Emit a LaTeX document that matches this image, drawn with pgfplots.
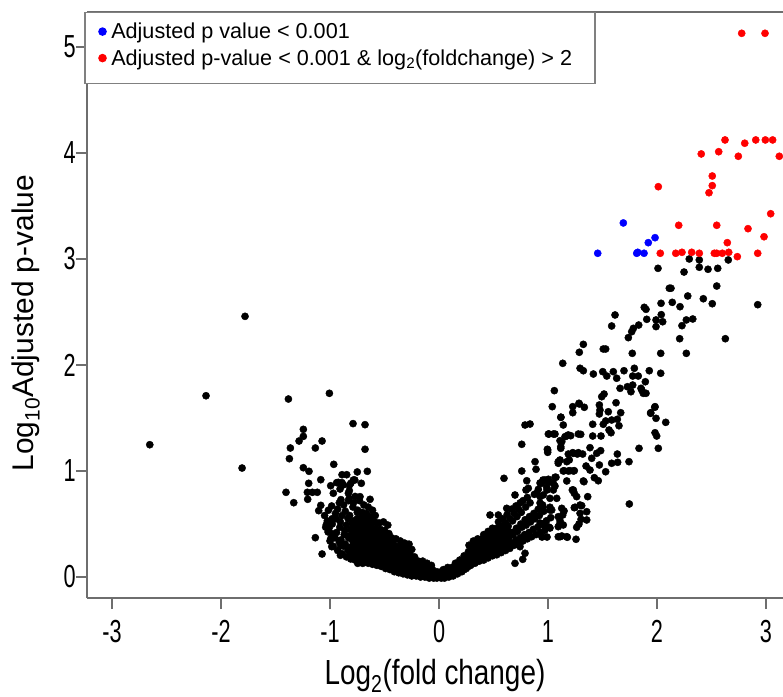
\documentclass[border=0pt]{standalone}
\usepackage{pgfplots}
\pgfplotsset{compat=1.18}
\usepackage{fontspec}
\setmainfont{Liberation Sans}
\newfontfamily\tickfont[FakeStretch=0.68]{Liberation Sans}
\newfontfamily\xlabfont[FakeStretch=0.8]{Liberation Sans}
\definecolor{axgray}{RGB}{110,110,110}
\definecolor{lggray}{RGB}{128,128,128}
\definecolor{ptblue}{RGB}{0,0,255}
\definecolor{ptred}{RGB}{255,0,0}
\begin{document}
\begin{tikzpicture}
\begin{axis}[
  scale only axis, width=696bp, height=586bp,
  xmin=-3.23, xmax=3.156, ymin=-0.198, ymax=5.33,
  axis x line=box, axis y line=left,
  axis line style={-, axgray, line width=1.3bp},
  x axis line style={-}, y axis line style={-},
  xtick={-3,-2,-1,0,1,2,3}, xticklabels={-3,-2,-1,0,1,2,3},
  ytick={0,1,2,3,4,5}, yticklabels={0,1,2,3,4,5},
  xtick pos=bottom, ytick pos=left,
  tick align=outside, major tick length=11bp,
  tick style={axgray, line width=1.3bp},
  tick label style={font=\tickfont\fontsize{32}{36}\selectfont, inner sep=0pt},
  xticklabel style={anchor=north, yshift=-11bp},
  yticklabel style={anchor=east},
  xlabel={Log\textsubscript{2}(fold change)},
  xlabel style={font=\xlabfont\fontsize{35}{40}\selectfont, at={(axis description cs:0.5,-0.147)}, anchor=base, inner sep=0pt},
  ylabel={Log\textsubscript{10}Adjusted p-value},
  ylabel style={font=\fontsize{30}{34}\selectfont, at={(axis description cs:-0.0675,0.469)}, anchor=south, inner sep=0pt},
  legend style={at={(axis description cs:-0.0043,1)}, anchor=north west, draw=lggray, line width=1.5bp, fill=white,
    inner xsep=13.5bp, inner ysep=10.5bp, row sep=3bp, column sep=4.5bp,
    font=\fontsize{21.7}{25}\selectfont, nodes={inner sep=0pt, text height=15.5bp, text depth=8bp}},
  legend cell align=left,
  legend image code/.code={\fill (0bp,3.4bp) circle (3.5bp);},
  clip=true,
]
\addplot[only marks, mark=*, mark size=3.6bp, black, forget plot] table[row sep=\\] {
x y\\
-1.780 2.459\\ -2.138 1.710\\ -2.654 1.248\\ -1.807 1.028\\ -1.382 1.679\\ -1.006 1.733\\
-0.789 1.447\\ -0.679 1.437\\ -0.679 1.205\\ -1.245 1.393\\ -1.245 1.327\\ -1.284 1.283\\
-1.364 1.217\\ -1.373 1.116\\ -1.135 1.217\\ -1.073 1.283\\ -0.966 1.063\\ -1.245 1.031\\
-1.193 0.997\\ -1.404 0.799\\ -1.333 0.701\\ -1.196 0.884\\ -1.208 0.799\\ -1.162 0.799\\
-1.117 0.799\\ -1.205 0.733\\ -1.085 0.918\\ -1.135 0.371\\ -1.073 0.217\\ -0.905 0.205\\
-1.104 0.626\\ -1.034 0.494\\ -1.018 0.425\\ -0.984 0.286\\ -0.994 0.361\\ -0.890 0.965\\
-0.847 0.965\\ -0.750 0.991\\ -0.658 0.997\\ -0.994 0.861\\ -0.939 0.890\\ -0.890 0.890\\
-0.823 0.865\\ -0.773 0.915\\ -0.713 0.884\\ -0.970 0.790\\ -0.823 0.814\\ -0.633 0.733\\
-0.924 0.893\\ -0.881 0.868\\ -0.810 0.884\\ -0.786 0.915\\ -0.908 0.830\\ -0.832 0.790\\
-0.725 0.758\\ -1.085 0.676\\ -0.902 0.295\\ -0.817 0.192\\ -0.746 0.129\\ -0.700 0.129\\
-1.04 0.47\\ -1.025 0.53\\ -1.05 0.58\\
-1.00 0.34\\ -0.985 0.41\\ -1.01 0.46\\ -0.98 0.55\\ -1.015 0.63\\
-0.97 0.29\\ -0.955 0.37\\ -0.98 0.50\\ -0.95 0.60\\ -0.985 0.67\\
-0.93 0.25\\ -0.915 0.33\\ -0.94 0.42\\ -0.91 0.47\\ -0.945 0.55\\ -0.93 0.64\\ -0.915 0.70\\
-0.89 0.22\\ -0.875 0.29\\ -0.90 0.35\\ -0.87 0.40\\ -0.905 0.52\\ -0.89 0.58\\ -0.875 0.68\\ -0.90 0.73\\
-0.85 0.19\\ -0.835 0.25\\ -0.86 0.31\\ -0.83 0.37\\ -0.865 0.44\\ -0.85 0.49\\ -0.835 0.55\\ -0.86 0.62\\ -0.83 0.72\\
-0.81 0.17\\ -0.795 0.23\\ -0.82 0.28\\ -0.79 0.34\\ -0.825 0.39\\ -0.81 0.45\\ -0.795 0.51\\ -0.82 0.58\\ -0.79 0.66\\ -0.825 0.74\\
-0.77 0.16\\ -0.755 0.21\\ -0.78 0.26\\ -0.75 0.31\\ -0.785 0.36\\ -0.77 0.42\\ -0.755 0.47\\ -0.78 0.53\\ -0.75 0.61\\ -0.785 0.70\\ -0.77 0.76\\
-0.73 0.15\\ -0.715 0.20\\ -0.74 0.25\\ -0.71 0.30\\ -0.745 0.35\\ -0.73 0.40\\ -0.715 0.45\\ -0.74 0.50\\ -0.71 0.56\\ -0.745 0.63\\ -0.73 0.72\\
-0.69 0.14\\ -0.675 0.19\\ -0.70 0.24\\ -0.67 0.29\\ -0.705 0.34\\ -0.69 0.39\\ -0.675 0.44\\ -0.70 0.49\\ -0.67 0.55\\ -0.705 0.61\\ -0.69 0.68\\
-0.65 0.13\\ -0.635 0.18\\ -0.66 0.23\\ -0.63 0.28\\ -0.665 0.33\\ -0.65 0.38\\ -0.635 0.43\\ -0.66 0.48\\ -0.63 0.53\\ -0.665 0.60\\ -0.65 0.66\\
-0.61 0.12\\ -0.595 0.17\\ -0.62 0.22\\ -0.59 0.27\\ -0.625 0.32\\ -0.61 0.37\\ -0.595 0.42\\ -0.62 0.47\\ -0.59 0.52\\ -0.625 0.57\\ -0.61 0.63\\
-0.57 0.11\\ -0.555 0.16\\ -0.58 0.21\\ -0.55 0.26\\ -0.585 0.31\\ -0.57 0.36\\ -0.555 0.41\\ -0.58 0.46\\ -0.55 0.51\\ -0.585 0.58\\
-0.53 0.10\\ -0.515 0.15\\ -0.54 0.20\\ -0.51 0.25\\ -0.545 0.30\\ -0.53 0.35\\ -0.515 0.40\\ -0.54 0.45\\ -0.51 0.52\\
-0.49 0.08\\ -0.475 0.13\\ -0.50 0.18\\ -0.47 0.23\\ -0.505 0.28\\ -0.49 0.33\\ -0.475 0.38\\ -0.50 0.44\\ -0.47 0.49\\
-0.45 0.07\\ -0.435 0.12\\ -0.46 0.17\\ -0.43 0.22\\ -0.465 0.27\\ -0.45 0.32\\ -0.435 0.37\\ -0.46 0.41\\
-0.41 0.05\\ -0.395 0.10\\ -0.42 0.15\\ -0.39 0.20\\ -0.425 0.25\\ -0.41 0.30\\ -0.395 0.36\\
-0.37 0.04\\ -0.355 0.09\\ -0.38 0.14\\ -0.35 0.19\\ -0.385 0.24\\ -0.37 0.29\\ -0.355 0.34\\
-0.33 0.03\\ -0.315 0.08\\ -0.34 0.13\\ -0.31 0.18\\ -0.345 0.23\\ -0.33 0.28\\ -0.315 0.32\\
-0.29 0.02\\ -0.275 0.07\\ -0.30 0.12\\ -0.27 0.17\\ -0.305 0.22\\ -0.29 0.27\\ -0.275 0.31\\
-0.25 0.01\\ -0.235 0.06\\ -0.26 0.11\\ -0.23 0.16\\ -0.265 0.21\\ -0.25 0.26\\
-0.21 0.01\\ -0.195 0.05\\ -0.22 0.10\\ -0.19 0.15\\ -0.225 0.19\\
-0.17 0.00\\ -0.155 0.05\\ -0.18 0.10\\ -0.15 0.15\\
-0.13 0.00\\ -0.115 0.04\\ -0.14 0.08\\ -0.11 0.13\\
-0.09 -0.01\\ -0.075 0.03\\ -0.10 0.07\\ -0.07 0.11\\
-0.05 -0.01\\ -0.035 0.03\\ -0.06 0.07\\
-0.02 -0.01\\ -0.02 0.02\\ -0.02 0.05\\
0.02 -0.01\\ 0.02 0.02\\ 0.02 0.05\\
-0.79 0.19\\ -0.79 0.24\\ -0.79 0.29\\ -0.79 0.34\\ -0.79 0.40\\ -0.79 0.45\\ -0.79 0.50\\
-0.75 0.18\\ -0.75 0.23\\ -0.75 0.28\\ -0.75 0.33\\ -0.75 0.38\\ -0.75 0.44\\ -0.75 0.49\\ -0.75 0.55\\
-0.71 0.17\\ -0.71 0.22\\ -0.71 0.27\\ -0.71 0.32\\ -0.71 0.37\\ -0.71 0.42\\ -0.71 0.47\\ -0.71 0.52\\
-0.67 0.16\\ -0.67 0.21\\ -0.67 0.26\\ -0.67 0.31\\ -0.67 0.36\\ -0.67 0.41\\ -0.67 0.46\\ -0.67 0.51\\
-0.63 0.15\\ -0.63 0.20\\ -0.63 0.25\\ -0.63 0.30\\ -0.63 0.35\\ -0.63 0.40\\ -0.63 0.45\\ -0.63 0.50\\
-0.59 0.14\\ -0.59 0.19\\ -0.59 0.24\\ -0.59 0.29\\ -0.59 0.34\\ -0.59 0.39\\ -0.59 0.44\\
-0.55 0.13\\ -0.55 0.18\\ -0.55 0.23\\ -0.55 0.28\\ -0.55 0.33\\ -0.55 0.38\\ -0.55 0.43\\
-0.51 0.11\\ -0.51 0.16\\ -0.51 0.21\\ -0.51 0.26\\ -0.51 0.31\\ -0.51 0.36\\ -0.51 0.41\\
-0.47 0.10\\ -0.47 0.15\\ -0.47 0.20\\ -0.47 0.25\\ -0.47 0.30\\ -0.47 0.35\\
-0.43 0.08\\ -0.43 0.13\\ -0.43 0.18\\ -0.43 0.23\\ -0.43 0.28\\ -0.43 0.33\\
-0.39 0.07\\ -0.39 0.12\\ -0.39 0.17\\ -0.39 0.22\\ -0.39 0.27\\
-0.35 0.06\\ -0.35 0.11\\ -0.35 0.16\\ -0.35 0.21\\ -0.35 0.26\\
-0.31 0.05\\ -0.31 0.10\\ -0.31 0.15\\ -0.31 0.20\\ -0.31 0.25\\
-0.27 0.04\\ -0.27 0.09\\ -0.27 0.14\\ -0.27 0.19\\
-0.23 0.03\\ -0.23 0.08\\ -0.23 0.13\\ -0.23 0.17\\
-0.19 0.03\\ -0.19 0.07\\ -0.19 0.12\\
-0.15 0.02\\ -0.15 0.07\\ -0.15 0.12\\
-0.11 0.02\\ -0.11 0.06\\ -0.11 0.10\\
-0.07 0.01\\ -0.07 0.05\\
0.05 -0.01\\ 0.065 0.03\\ 0.04 0.07\\
0.09 0.00\\ 0.105 0.04\\ 0.08 0.09\\
0.13 0.01\\ 0.145 0.05\\ 0.12 0.09\\ 0.15 0.13\\
0.17 0.03\\ 0.185 0.07\\ 0.16 0.11\\ 0.19 0.16\\
0.21 0.05\\ 0.225 0.10\\ 0.20 0.15\\ 0.23 0.20\\
0.25 0.08\\ 0.265 0.13\\ 0.24 0.18\\ 0.27 0.24\\
0.29 0.11\\ 0.305 0.16\\ 0.28 0.21\\ 0.31 0.26\\ 0.275 0.30\\
0.33 0.13\\ 0.345 0.18\\ 0.32 0.23\\ 0.35 0.28\\ 0.315 0.34\\
0.37 0.15\\ 0.385 0.20\\ 0.36 0.25\\ 0.39 0.30\\ 0.355 0.36\\
0.41 0.16\\ 0.425 0.21\\ 0.40 0.26\\ 0.43 0.31\\ 0.395 0.36\\ 0.41 0.40\\
0.45 0.18\\ 0.465 0.23\\ 0.44 0.28\\ 0.47 0.33\\ 0.435 0.38\\ 0.45 0.43\\
0.49 0.20\\ 0.505 0.25\\ 0.48 0.30\\ 0.51 0.35\\ 0.475 0.40\\ 0.49 0.46\\
0.53 0.21\\ 0.545 0.26\\ 0.52 0.31\\ 0.55 0.36\\ 0.515 0.41\\ 0.53 0.46\\ 0.545 0.52\\
0.57 0.23\\ 0.585 0.28\\ 0.56 0.33\\ 0.59 0.38\\ 0.555 0.43\\ 0.57 0.48\\ 0.585 0.55\\
0.61 0.25\\ 0.625 0.30\\ 0.60 0.35\\ 0.63 0.40\\ 0.595 0.45\\ 0.61 0.51\\ 0.625 0.59\\
0.65 0.27\\ 0.665 0.32\\ 0.64 0.37\\ 0.67 0.42\\ 0.635 0.48\\ 0.65 0.55\\ 0.665 0.64\\
0.69 0.30\\ 0.705 0.35\\ 0.68 0.40\\ 0.71 0.46\\ 0.675 0.53\\ 0.69 0.60\\ 0.705 0.67\\
0.73 0.32\\ 0.745 0.37\\ 0.72 0.43\\ 0.75 0.50\\ 0.715 0.57\\ 0.73 0.64\\ 0.745 0.70\\
0.77 0.34\\ 0.785 0.40\\ 0.76 0.47\\ 0.79 0.54\\ 0.755 0.61\\ 0.77 0.72\\
0.81 0.36\\ 0.825 0.42\\ 0.80 0.49\\ 0.83 0.57\\ 0.795 0.66\\ 0.81 0.75\\
0.85 0.38\\ 0.865 0.45\\ 0.84 0.52\\ 0.87 0.60\\ 0.835 0.70\\
0.89 0.40\\ 0.905 0.47\\ 0.88 0.55\\ 0.91 0.64\\ 0.875 0.78\\
0.93 0.42\\ 0.945 0.50\\ 0.92 0.58\\ 0.95 0.68\\
0.97 0.44\\ 0.985 0.53\\ 0.96 0.62\\
1.01 0.47\\ 1.025 0.56\\
0.07 0.01\\ 0.07 0.05\\ 0.11 0.02\\ 0.11 0.06\\
0.15 0.04\\ 0.15 0.08\\ 0.15 0.11\\ 0.19 0.05\\ 0.19 0.09\\ 0.19 0.13\\
0.23 0.07\\ 0.23 0.12\\ 0.23 0.17\\ 0.27 0.10\\ 0.27 0.15\\ 0.27 0.20\\
0.31 0.13\\ 0.31 0.18\\ 0.31 0.23\\ 0.31 0.28\\ 0.35 0.15\\ 0.35 0.20\\ 0.35 0.25\\ 0.35 0.31\\
0.39 0.17\\ 0.39 0.22\\ 0.39 0.27\\ 0.39 0.33\\ 0.43 0.19\\ 0.43 0.24\\ 0.43 0.29\\ 0.43 0.35\\
0.47 0.21\\ 0.47 0.26\\ 0.47 0.31\\ 0.47 0.37\\ 0.51 0.22\\ 0.51 0.28\\ 0.51 0.33\\ 0.51 0.38\\
0.55 0.24\\ 0.55 0.29\\ 0.55 0.34\\ 0.55 0.40\\ 0.59 0.26\\ 0.59 0.31\\ 0.59 0.36\\ 0.59 0.42\\
0.63 0.28\\ 0.63 0.33\\ 0.63 0.38\\ 0.63 0.44\\
0.927 0.887\\ 0.954 0.915\\ 0.991 0.821\\ 0.927 0.698\\ 0.954 0.660\\ 1.018 0.632\\
0.927 0.509\\ 0.972 0.472\\ 1.018 0.462\\ 0.945 0.377\\ 0.991 0.377\\
1.039 1.607\\ 1.227 1.607\\ 1.227 1.550\\ 1.287 1.632\\ 1.333 1.601\\ 1.117 1.507\\
1.140 1.434\\ 0.789 1.434\\ 0.835 1.443\\ 1.009 1.349\\ 1.064 1.349\\ 1.186 1.340\\
1.156 1.324\\ 1.278 1.349\\ 1.110 1.286\\ 0.759 1.252\\ 0.997 1.198\\ 0.997 1.176\\
1.117 1.214\\ 1.186 1.160\\ 1.232 1.167\\ 1.278 1.173\\ 1.094 1.088\\ 1.110 1.104\\
1.172 1.088\\ 0.881 1.088\\ 0.759 1.000\\ 0.890 1.016\\ 1.140 1.000\\ 1.186 1.000\\
1.232 1.000\\ 0.596 0.931\\ 0.805 0.908\\ 0.972 0.915\\ 1.003 0.922\\ 1.064 0.941\\
1.172 0.906\\ 1.324 0.906\\ 0.942 0.884\\ 0.988 0.846\\ 0.798 0.821\\ 0.819 0.837\\
0.911 0.827\\ 1.064 0.858\\ 1.049 0.821\\ 0.697 0.774\\ 0.896 0.790\\ 0.927 0.758\\
0.957 0.774\\ 1.018 0.742\\ 1.080 0.742\\ 1.232 0.821\\ 1.263 0.758\\ 1.018 0.658\\
1.034 0.632\\ 1.126 0.648\\ 1.248 0.658\\ 1.294 0.679\\ 0.468 0.585\\ 0.544 0.585\\
0.621 0.648\\ 1.094 0.569\\ 1.110 0.531\\ 1.294 0.601\\ 1.355 0.616\\ 1.094 0.475\\
1.263 0.469\\ 1.355 0.538\\ 1.094 0.380\\ 1.126 0.387\\ 1.172 0.380\\ 1.257 0.356\\
0.743 0.286\\ 0.789 0.224\\ 0.697 0.129\\ 0.768 0.167\\ 1.177 0.375\\
2.009 2.912\\ 2.113 2.724\\ 1.883 2.544\\ 1.899 2.525\\ 2.037 2.582\\ 1.615 2.472\\
1.991 2.425\\ 2.052 2.408\\ 1.906 2.431\\ 1.584 2.368\\ 1.832 2.377\\ 1.783 2.346\\
1.768 2.314\\ 1.991 2.362\\ 1.737 2.258\\ 1.324 2.195\\ 1.287 2.120\\ 1.507 2.151\\
1.529 2.151\\ 1.773 2.110\\ 2.034 2.110\\ 1.135 2.016\\ 1.294 1.969\\ 1.324 1.946\\
1.416 1.915\\ 1.502 1.937\\ 1.539 1.896\\ 1.599 1.937\\ 1.630 1.875\\ 1.697 1.946\\
1.792 1.969\\ 1.777 1.896\\ 1.828 1.896\\ 1.929 1.946\\ 2.034 1.922\\ 1.893 1.842\\
1.661 1.780\\ 1.728 1.795\\ 1.777 1.811\\ 1.761 1.748\\ 1.853 1.780\\ 1.874 1.733\\
1.899 1.733\\ 1.058 1.758\\ 1.493 1.701\\ 1.514 1.726\\ 1.284 1.639\\ 1.471 1.623\\
1.477 1.575\\ 1.471 1.538\\ 1.624 1.644\\ 1.553 1.559\\ 1.667 1.550\\ 1.982 1.607\\
1.942 1.550\\ 1.991 1.497\\ 2.080 1.459\\ 1.119 1.507\\ 1.410 1.441\\ 1.507 1.441\\
1.529 1.472\\ 1.584 1.481\\ 1.636 1.488\\ 1.651 1.427\\ 1.560 1.387\\ 1.578 1.361\\
1.486 1.330\\ 1.410 1.330\\ 1.300 1.346\\ 1.003 1.349\\ 1.049 1.349\\ 1.177 1.333\\
1.208 1.333\\ 1.982 1.361\\ 1.997 1.330\\ 2.012 1.214\\ 1.835 1.214\\ 0.994 1.205\\
1.126 1.276\\ 1.117 1.229\\ 1.385 1.220\\ 1.483 1.192\\ 1.447 1.167\\ 1.636 1.160\\
1.227 1.173\\ 1.269 1.160\\ 1.318 1.160\\ 1.401 1.120\\ 1.349 1.047\\ 1.471 1.057\\
1.529 0.993\\ 1.584 1.073\\ 1.639 1.082\\ 1.743 1.088\\ 1.195 1.104\\ 1.094 1.073\\
1.147 1.003\\ 1.202 1.003\\ 1.241 1.003\\ 1.330 0.899\\ 1.425 0.937\\ 1.461 0.908\\
1.385 1.009\\ 1.073 0.941\\ 1.049 0.884\\ 1.003 0.893\\ 1.223 0.821\\ 1.241 0.790\\
1.364 0.758\\ 1.746 0.689\\ 1.241 0.654\\ 1.309 0.673\\ 1.147 0.623\\ 1.135 0.585\\
1.303 0.544\\ 1.284 0.500\\ 1.110 0.507\\ 1.140 0.491\\ 1.110 0.380\\
2.296 3.000\\ 2.388 2.991\\ 2.388 2.922\\ 2.654 2.991\\ 2.248 2.877\\ 2.468 2.903\\
2.557 2.912\\ 2.548 2.745\\ 2.128 2.724\\ 2.282 2.651\\ 2.425 2.625\\ 2.507 2.578\\
2.924 2.569\\ 2.140 2.591\\ 2.211 2.550\\ 2.039 2.475\\ 2.269 2.425\\ 2.328 2.434\\
2.229 2.371\\ 2.208 2.248\\ 2.627 2.248\\ 2.269 2.110\\ 1.860 1.764\\ 1.979 1.601\\
1.942 1.544\\
};
\addplot[only marks, mark=*, mark size=3.6bp, ptblue] table[row sep=\\] {
x y\\
1.691 3.340\\ 1.456 3.054\\ 1.814 3.054\\ 1.823 3.063\\ 1.881 3.054\\ 1.920 3.154\\ 1.982 3.201\\
};
\addlegendentry{Adjusted p value < 0.001}
\addplot[only marks, mark=*, mark size=3.6bp, ptred] table[row sep=\\] {
x y\\
2.777 5.129\\ 2.991 5.129\\ 2.624 4.123\\ 2.805 4.092\\ 2.906 4.123\\ 2.994 4.123\\
3.061 4.123\\ 2.406 3.991\\ 2.566 4.012\\ 2.746 3.969\\ 3.122 3.969\\ 2.012 3.682\\
2.507 3.783\\ 2.507 3.692\\ 2.477 3.625\\ 3.043 3.427\\ 2.199 3.318\\ 2.548 3.318\\
2.835 3.286\\ 2.982 3.210\\ 2.645 3.154\\ 2.030 3.054\\ 2.172 3.054\\ 2.229 3.063\\
2.318 3.063\\ 2.388 3.054\\ 2.526 3.054\\ 2.548 3.054\\ 2.599 3.054\\ 2.658 3.063\\
2.737 3.022\\ 2.924 3.054\\
};
\addlegendentry{Adjusted p-value < 0.001 \& log\textsubscript{2}(foldchange) > 2\kern9.5bp\null}
\end{axis}
\pgfresetboundingbox
\path (-87bp,-99bp) rectangle (696bp,598bp);
\end{tikzpicture}
\end{document}
